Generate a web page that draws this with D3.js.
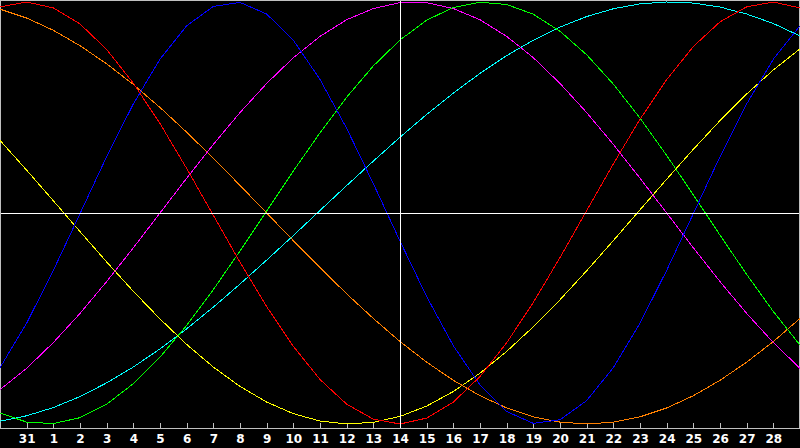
<!DOCTYPE html>
<html>
<head>
<meta charset="utf-8">
<script src="https://cdn.jsdelivr.net/npm/d3@7/dist/d3.min.js"></script>
<style>
html,body{margin:0;padding:0;background:#000;}
svg{display:block;}
</style>
</head>
<body>
<svg id="chart" width="800" height="448"></svg>
<script>
// Day labels for tick positions 1..29 (day index 0 = Jan 30, index 30 = Mar 1)
const tickLabels = ["31","1","2","3","4","5","6","7","8","9","10","11","12","13","14","15","16","17","18","19","20","21","22","23","24","25","26","27","28"];
const todayIndex = 15;

// Series values (one per day index 0..30), range -1..1
const red = [0.977,1.000,0.972,0.896,0.775,0.615,0.424,0.211,-0.011,-0.233,-0.444,-0.632,-0.789,-0.906,-0.977,-1.000,-0.972,-0.896,-0.775,-0.615,-0.424,-0.211,0.011,0.233,0.444,0.632,0.789,0.906,0.977,1.000,0.972];
const blue = [-0.733,-0.522,-0.272,-0.003,0.267,0.517,0.729,0.887,0.979,0.998,0.943,0.819,0.633,0.401,0.139,-0.133,-0.396,-0.629,-0.815,-0.941,-0.997,-0.980,-0.889,-0.733,-0.522,-0.272,-0.003,0.267,0.517,0.729,0.887];
const green = [-0.948,-0.991,-0.998,-0.970,-0.906,-0.809,-0.683,-0.533,-0.363,-0.180,0.010,0.199,0.380,0.549,0.697,0.820,0.914,0.974,0.999,0.988,0.942,0.861,0.750,0.611,0.450,0.273,0.086,-0.105,-0.291,-0.467,-0.626];
const magenta = [-0.837,-0.736,-0.614,-0.476,-0.325,-0.165,0.000,0.165,0.325,0.476,0.614,0.736,0.837,0.916,0.969,0.997,0.997,0.969,0.916,0.837,0.736,0.614,0.476,0.325,0.165,0.000,-0.165,-0.325,-0.476,-0.614,-0.736];
const cyan = [-0.987,-0.961,-0.922,-0.870,-0.805,-0.730,-0.644,-0.549,-0.446,-0.337,-0.223,-0.107,0.012,0.130,0.246,0.359,0.467,0.568,0.662,0.746,0.819,0.881,0.931,0.968,0.991,1.000,0.995,0.976,0.943,0.898,0.839];
const yellow = [0.344,0.203,0.058,-0.088,-0.232,-0.371,-0.502,-0.623,-0.730,-0.822,-0.896,-0.951,-0.986,-1.000,-0.992,-0.964,-0.915,-0.846,-0.759,-0.656,-0.539,-0.411,-0.274,-0.131,0.015,0.160,0.302,0.438,0.564,0.678,0.778];
const orange = [0.966,0.924,0.866,0.793,0.707,0.609,0.500,0.383,0.259,0.131,0.000,-0.131,-0.259,-0.383,-0.500,-0.609,-0.707,-0.793,-0.866,-0.924,-0.966,-0.991,-1.000,-0.991,-0.966,-0.924,-0.866,-0.793,-0.707,-0.609,-0.500];

const seriesList = [
  {values: cyan, color: "#00ffff"},
  {values: yellow, color: "#ffff00"},
  {values: orange, color: "#ff8000"},
  {values: magenta, color: "#ff00ff"},
  {values: green, color: "#00ff00"},
  {values: blue, color: "#0000ff"},
  {values: red, color: "#ff0000"}
];

const svg = d3.select("#chart");
const axisY = 428;
const x = d3.scaleLinear().domain([0, 30]).range([0, 800]);
const y = d3.scaleLinear().domain([-1, 1]).range([424, 2]);

svg.append("rect").attr("x",0).attr("y",0).attr("width",800).attr("height",448).attr("fill","#000");

// Frame
svg.append("path")
  .attr("d", `M0.5,${axisY} V0.5 H799.5 V${axisY}`)
  .attr("fill","none").attr("stroke","#c0c0c0").attr("stroke-width",1)
  .attr("shape-rendering","crispEdges");

// Axis
const ticks = d3.range(1, 30);
const axis = d3.axisBottom(x).tickValues(ticks).tickSize(0).tickFormat((d,i) => tickLabels[i]);
const ag = svg.append("g").attr("transform", `translate(0,${axisY + 0.5})`).call(axis);
ag.select(".domain").attr("stroke","#c0c0c0").attr("d","M0,0H800").attr("shape-rendering","crispEdges");
ag.selectAll(".tick line").remove();
ag.selectAll(".tick text")
  .attr("fill","#ffffff")
  .attr("font-family","DejaVu Sans, sans-serif")
  .attr("font-weight","bold")
  .attr("font-size","12px")
  .attr("dy", null)
  .attr("y", 14);
svg.append("g").selectAll("line").data(ticks).join("line")
  .attr("x1", d => Math.round(x(d)) + 0.5).attr("x2", d => Math.round(x(d)) + 0.5)
  .attr("y1", axisY - 5).attr("y2", axisY)
  .attr("stroke","#c0c0c0").attr("stroke-width",1)
  .attr("shape-rendering","crispEdges");

// Curves
const line = d3.line().x((d,i) => x(i)).y(d => y(d));
svg.append("g").selectAll("path").data(seriesList).join("path")
  .attr("d", s => line(s.values))
  .attr("fill","none")
  .attr("stroke", s => s.color)
  .attr("stroke-width", 1)
  .attr("shape-rendering","crispEdges");

// Midline and today line
svg.append("line")
  .attr("x1", 1).attr("x2", 799)
  .attr("y1", Math.round(y(0)) + 0.5).attr("y2", Math.round(y(0)) + 0.5)
  .attr("stroke","#ffffff").attr("stroke-width",1)
  .attr("shape-rendering","crispEdges");
svg.append("line")
  .attr("x1", x(todayIndex) + 0.5).attr("x2", x(todayIndex) + 0.5)
  .attr("y1", 1).attr("y2", axisY)
  .attr("stroke","#ffffff").attr("stroke-width",1)
  .attr("shape-rendering","crispEdges");
</script>
</body>
</html>
